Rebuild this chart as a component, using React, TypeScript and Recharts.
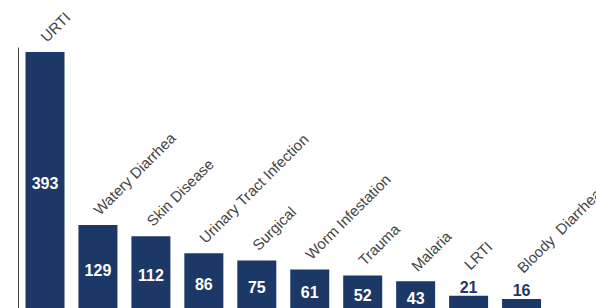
import { BarChart, Bar, XAxis, YAxis, LabelList } from 'recharts'

const categories = [
  'URTI',
  'Watery Diarrhea',
  'Skin Disease',
  'Urinary Tract Infection',
  'Surgical',
  'Worm Infestation',
  'Trauma',
  'Malaria',
  'LRTI',
  'Bloody  Diarrhea'
]
const counts = [393, 129, 112, 86, 75, 61, 52, 43, 21, 16]

const data = categories.map((name, i) => ({ name, value: counts[i] }))

const NAVY = '#1c3866'
const FONT = '"Liberation Sans", Arial, sans-serif'

// bars too short to hold their number get it on top instead
const fitsInside = (h: number) => h > 20

const ValueLabel = (props: any) => {
  const { x, y, width, height, value } = props
  const cx = x + width / 2
  if (fitsInside(height)) {
    return (
      <text x={cx} y={y + height / 2 + 8.5} textAnchor="middle" fill="#fff" fontSize={16} fontWeight="bold" fontFamily={FONT}>
        {value}
      </text>
    )
  }
  return (
    <text x={cx} y={y - 3} textAnchor="middle" fill={NAVY} fontSize={16} fontWeight="bold" fontFamily={FONT}>
      {value}
    </text>
  )
}

const NameLabel = (props: any) => {
  const { x, y, width, height, value } = props
  const ox = x + width / 2 + 2
  const oy = fitsInside(height) ? y - 9 : y - 25
  return (
    <text
      x={ox}
      y={oy}
      transform={`rotate(-45 ${ox} ${oy})`}
      textAnchor="start"
      fill="#444"
      fontSize={15}
      fontFamily={FONT}
      style={{ whiteSpace: 'pre' }}
    >
      {value}
    </text>
  )
}

export default function App() {
  return (
    <div style={{ position: 'fixed', left: 0, top: 0, width: 596, height: 308, overflow: 'hidden', background: '#fff' }}>
      <BarChart
        width={596}
        height={320}
        data={data}
        margin={{ top: 47.5, right: 48, bottom: 10.5, left: 0 }}
      >
        <XAxis dataKey="name" hide />
        <YAxis domain={[0, 400]} tick={false} tickLine={false} width={18.5} axisLine={{ stroke: '#444' }} />
        <Bar dataKey="value" fill={NAVY} barSize={39} isAnimationActive={false}>
          <LabelList dataKey="value" content={ValueLabel} />
          <LabelList dataKey="name" content={NameLabel} />
        </Bar>
      </BarChart>
    </div>
  )
}
